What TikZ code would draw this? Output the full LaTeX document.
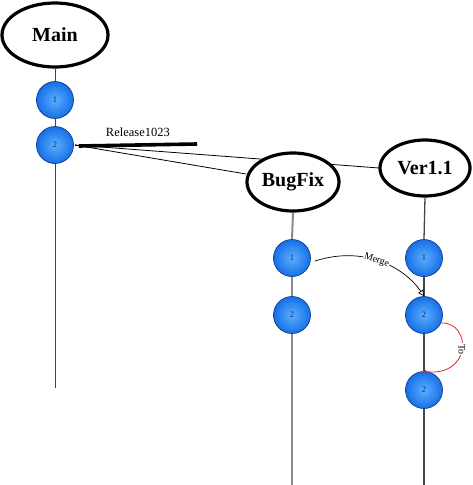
\documentclass[tikz,border=0pt]{standalone}
\usepackage{fontspec}
\setmainfont{Liberation Serif}
\usetikzlibrary{shapes.geometric,arrows.meta}
\definecolor{ballin}{HTML}{5AAEFF}
\definecolor{ballout}{HTML}{1670E6}
\definecolor{balledge}{HTML}{123A8A}
\definecolor{balltext}{HTML}{0A2A66}
\definecolor{lineA}{HTML}{444444}
\definecolor{lineB}{HTML}{8A8A8A}
\definecolor{toRed}{HTML}{E8202A}
\tikzset{
  head/.style={ellipse, draw=black, line width=3.2pt, fill=white, inner sep=0pt,
    font=\fontsize{20}{22}\selectfont\bfseries},
  ball/.style={circle, draw=balledge, line width=0.7pt, minimum size=37pt, inner sep=0pt,
    inner color=ballin, outer color=ballout, text=balltext, font=\fontsize{8.5}{9}\selectfont},
  life/.style={draw=lineA, line width=1pt},
  lifeb/.style={draw=lineB, line width=2pt},
  link/.style={draw=black, line width=0.8pt},
}
\begin{document}
\begin{tikzpicture}[x=1pt,y=-1pt]
\useasboundingbox (0,0) rectangle (472,485);
% lifeline end points
\coordinate (mEnd) at (55,388);
\coordinate (bEnd) at (292,485);
\coordinate (vEnd) at (424,485);
\coordinate (relEnd) at (197,144);
% balls
\node[ball] (m1) at (55,100) {1};
\node[ball] (m2) at (55,145) {2};
\node[ball] (b1) at (292,258) {1};
\node[ball] (b2) at (292,315) {2};
\node[ball] (v1) at (424,258) {1};
\node[ball] (v2) at (424,315) {2};
\node[ball] (v3) at (424,390) {2};
% links from main to branches (behind heads)
\coordinate (mOut) at ([xshift=1pt]m2.east);
\draw[link] (mOut) -- (379,168);
\draw[link] (mOut) -- (246,174);
% heads
\node[head, minimum width=106pt, minimum height=64pt] (main) at (55,35) {Main};
\node[head, minimum width=92pt, minimum height=58pt] (bug) at (293,182) {BugFix};
\node[head, minimum width=90pt, minimum height=56pt] (ver) at (425,168) {Ver1.1};
% lifelines
\draw[life] (main.south) -- (m1.north);
\draw[life] (m1.south) -- (m2.north);
\draw[life] (m2.south) -- (mEnd);
\draw[lifeb] (bug.south) -- (b1.north);
\draw[lifeb] (b1.south) -- (b2.north);
\draw[lifeb] (b2.south) -- (bEnd);
\draw[life,line width=1.3pt] (ver.south) -- (v1.north);
\draw[life,line width=1.3pt] (v1.south) -- (v2.north);
\draw[life,line width=1.3pt] (v2.south) -- (v3.north);
\draw[life,line width=1.3pt] (v3.south) -- (vEnd);
% release bar
\draw[black, line width=0.6pt] (mOut) -- ([xshift=4pt]mOut);
\draw[black, line width=3.6pt] ([xshift=4pt,yshift=-1pt]mOut) -- (relEnd)
  node[pos=0.5, above=3pt, font=\fontsize{12.5}{14}\selectfont] (rel) {Release1023};
% merge
\draw[black, line width=0.7pt, -{Triangle[open,length=6pt,width=6pt]}]
  ([xshift=4pt,yshift=-3pt]b1.east) .. controls (365,245) and (405,268) .. (v2.north)
  node[pos=0.46, sloped, fill=white, inner sep=0.6pt, font=\fontsize{10}{11}\selectfont] (mg) {Merge};
% to
\draw[toRed, line width=0.8pt, -{Stealth[length=4pt,width=4pt]}]
  (v2.-25) .. controls (472,322) and (472,378) .. (v3.95)
  node[pos=0.5, fill=white, inner sep=0.6pt, rotate=-90, text=black, font=\fontsize{10}{11}\selectfont] (to) {To};
\end{tikzpicture}
\end{document}
